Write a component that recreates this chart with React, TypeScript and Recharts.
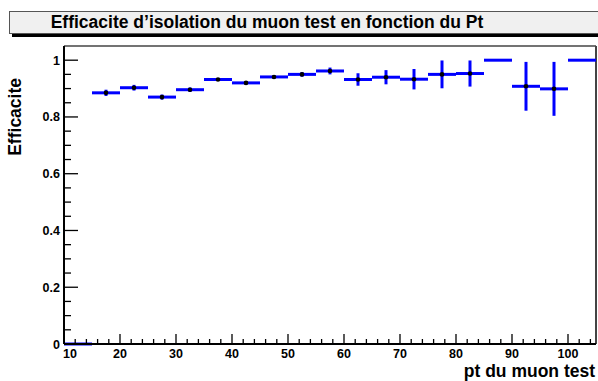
import { ComposedChart, Scatter, ErrorBar, XAxis, YAxis, ReferenceLine } from 'recharts';

// bins of 5 GeV, from 10 to 105
const binLow = [10, 15, 20, 25, 30, 35, 40, 45, 50, 55, 60, 65, 70, 75, 80, 85, 90, 95, 100];
const efficacite = [0, 0.885, 0.903, 0.87, 0.896, 0.932, 0.92, 0.941, 0.95, 0.962, 0.932, 0.94, 0.933, 0.95, 0.953, 1.0, 0.908, 0.899, 1.0];
const erreur = [0, 0.011, 0.01, 0.009, 0.008, 0.005, 0.006, 0.006, 0.008, 0.012, 0.022, 0.025, 0.036, 0.049, 0.046, 0, 0.086, 0.095, 0];
const binWidth = 5;

const xTicks = Array.from({ length: 48 }, (_, i) => 10 + i * 2);
const yTicks = Array.from({ length: 21 }, (_, i) => i / 20);

const data = binLow.map((lo, i) => ({
  x: lo + binWidth / 2,
  y: efficacite[i],
  ex: binWidth / 2,
  ey: erreur[i],
}));

const font = '"Liberation Sans", Arial, sans-serif';

const XTick = (props: any) => {
  const { x, y, payload } = props;
  const v = payload.value;
  const major = v % 10 === 0;
  return (
    <g>
      <line x1={x} x2={x} y1={y} y2={y - (major ? 10 : 5)} stroke="#000" strokeWidth={1.3} />
      {major && (
        <text x={v === 10 ? x - 1 : x} y={y + 14} textAnchor={v === 10 ? 'start' : 'middle'}
          fontFamily={font} fontWeight="bold" fontSize={12.5} fill="#000">
          {v}
        </text>
      )}
    </g>
  );
};

const YTick = (props: any) => {
  const { x, y, payload } = props;
  const v = payload.value;
  const major = Math.round(v * 20) % 4 === 0;
  const label = v === 0 ? '0' : Math.round(v * 10) === 10 ? '1' : v.toFixed(1);
  return (
    <g>
      <line x1={x} x2={x + (major ? 14 : 7)} y1={y} y2={y} stroke="#000" strokeWidth={1.3} />
      {major && (
        <text x={x - 4} y={y + 4.5} textAnchor="end"
          fontFamily={font} fontWeight="bold" fontSize={12.5} fill="#000">
          {label}
        </text>
      )}
    </g>
  );
};

const Marker = (props: any) => {
  const ey = props.payload?.ey ?? props.ey;
  if (!ey) return <g />;
  return <circle cx={props.cx} cy={props.cy} r={2.3} fill="#000" />;
};

export default function App() {
  return (
    <div style={{ position: 'absolute', left: 0, top: 0, width: 598, height: 381, background: '#fff', overflow: 'hidden' }}>
      <div style={{
        position: 'absolute', left: 9, top: 11, width: 600, height: 21,
        background: '#f0f0f0', border: '1px solid #555', boxShadow: '3px 3px 0 #000',
      }} />
      <div style={{
        position: 'absolute', left: 0, top: 11, width: 534, height: 23, lineHeight: '23px',
        textAlign: 'center', fontFamily: font, fontWeight: 'bold', fontSize: 17.5, color: '#000',
      }}>
        Efficacite d’isolation du muon test en fonction du Pt
      </div>
      <div style={{ position: 'absolute', left: 0, top: 0 }}>
        <ComposedChart width={598} height={381} data={data}
          margin={{ top: 46, right: 2, bottom: 0, left: 4 }}>
          <XAxis type="number" dataKey="x" domain={[10, 105]} ticks={xTicks} interval={0}
            allowDataOverflow height={37} tickSize={0} tickMargin={0} tickLine={false}
            axisLine={{ stroke: '#000', strokeWidth: 2 }} tick={<XTick />} />
          <YAxis type="number" domain={[0, 1.05]} ticks={yTicks} interval={0}
            allowDataOverflow width={60} tickSize={0} tickMargin={0} tickLine={false}
            axisLine={{ stroke: '#000', strokeWidth: 2 }} tick={<YTick />} />
          <ReferenceLine y={1.05} stroke="#444" strokeWidth={1.5} />
          <ReferenceLine x={105} stroke="#444" strokeWidth={2} />
          <Scatter dataKey="y" isAnimationActive={false} shape={<Marker />}>
            <ErrorBar dataKey="ex" direction="x" width={0} stroke="#0000ff" strokeWidth={3} />
            <ErrorBar dataKey="ey" direction="y" width={0} stroke="#0000ff" strokeWidth={3} />
          </Scatter>
        </ComposedChart>
      </div>
      {/* axis titles, ROOT style: aligned to the far end of each axis */}
      <svg width={598} height={381} style={{ position: 'absolute', left: 0, top: 0, pointerEvents: 'none' }}>
        <text x={21} y={78} transform="rotate(-90 21 78)" textAnchor="end"
          fontFamily={font} fontWeight="bold" fontSize={17.5} fill="#000">
          Efficacite
        </text>
        <text x={595} y={377} textAnchor="end"
          fontFamily={font} fontWeight="bold" fontSize={17.5} fill="#000">
          pt du muon test
        </text>
      </svg>
    </div>
  );
}
